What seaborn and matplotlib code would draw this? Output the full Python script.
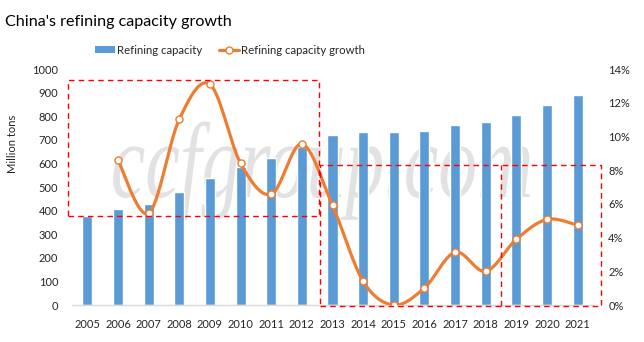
import numpy as np
import pandas as pd
import matplotlib
matplotlib.use("Agg")
import matplotlib.pyplot as plt
import seaborn as sns
from matplotlib.patches import Patch, Rectangle
from matplotlib.lines import Line2D
from matplotlib.ticker import FuncFormatter, MultipleLocator
from matplotlib.transforms import Affine2D
from matplotlib.patheffects import AbstractPathEffect

# ---- data ----
years = [str(y) for y in range(2005, 2022)]
capacity = [376, 407, 428, 479, 538, 585, 623, 668, 720, 733, 733, 737,
            763, 775, 805, 847, 890]                      # million tons
growth_years = years[1:]
growth = [8.60, 5.44, 11.02, 13.09, 8.41, 6.57, 9.55, 5.91, 1.41, 0.0,
          1.01, 3.13, 2.00, 3.90, 5.08, 4.73]             # percent

title = "China's refining capacity growth"
bar_label = "Refining capacity"
line_label = "Refining capacity growth"
y_label = "Million tons"
watermark = "ccfgroup.com"

BLUE = "#5B9BD5"
ORANGE = "#ED7D31"
FONT = "Lato"

sns.set_theme(style="white")
plt.rcParams["font.family"] = [FONT, "DejaVu Sans"]

W, H = 644, 342
fig = plt.figure(figsize=(W / 100, H / 100), dpi=100)
ax = fig.add_axes([72 / W, 37 / H, 521 / W, 236 / H])


class VerticalStretch(AbstractPathEffect):
    """Draw text glyphs stretched vertically about a fixed baseline (pixels)."""

    def __init__(self, base_y, factor):
        super().__init__()
        self.base_y = base_y
        self.factor = factor

    def draw_path(self, renderer, gc, tpath, affine, rgbFace=None):
        stretch = Affine2D().translate(0, -self.base_y).scale(1, self.factor) \
            .translate(0, self.base_y)
        renderer.draw_path(gc, tpath, affine + stretch, rgbFace)


def smooth_curve(xs, ys, n=30):
    """Bezier smoothing through every point (spreadsheet-style smoothed line)."""
    p = np.column_stack([xs, ys]).astype(float)
    out = []
    for i in range(len(p) - 1):
        p0 = p[i - 1] if i > 0 else p[i]
        p1, p2 = p[i], p[i + 1]
        p3 = p[i + 2] if i + 2 < len(p) else p[i + 1]
        c1 = p1 + (p2 - p0) / 6.0
        c2 = p2 - (p3 - p1) / 6.0
        t = np.linspace(0, 1, n)[:, None]
        seg = ((1 - t) ** 3) * p1 + 3 * ((1 - t) ** 2) * t * c1 \
            + 3 * (1 - t) * t ** 2 * c2 + t ** 3 * p2
        out.append(seg if i == 0 else seg[1:])
    out = np.vstack(out)
    return out[:, 0], out[:, 1]


# bars
df_bar = pd.DataFrame({"year": years, "capacity": capacity})
sns.barplot(data=df_bar, x="year", y="capacity", ax=ax, color=BLUE,
            saturation=1, width=0.33, zorder=2)

# watermark behind the bars
wm_base = H - 197
ax.text(322 / W, wm_base / H, watermark, transform=fig.transFigure,
        ha="center", va="baseline", fontsize=56, style="italic",
        family="Liberation Serif", color="#e2e2e2", zorder=0.5,
        path_effects=[VerticalStretch(wm_base, 1.38)])

ax.set_xlim(-0.5, len(years) - 0.5)
ax.set_ylim(0, 1000)
ax.yaxis.set_major_locator(MultipleLocator(100))
ax.set_xlabel("")
ax.set_ylabel("")
for s in ["top", "left", "right"]:
    ax.spines[s].set_visible(False)
ax.spines["bottom"].set_color("#d9d9d9")
ax.spines["bottom"].set_linewidth(1)
ax.tick_params(axis="both", length=0, labelsize=8, colors="#262626")
ax.tick_params(axis="y", pad=10)
ax.tick_params(axis="x", pad=10)

# growth line on secondary axis
ax2 = ax.twinx()
gx = np.array([years.index(y) for y in growth_years], dtype=float)
cx, cy = smooth_curve(gx, growth)
ax2.plot(cx, cy, color=ORANGE, lw=2.3, zorder=3, solid_capstyle="round")
df_line = pd.DataFrame({"x": gx, "growth": growth})
sns.scatterplot(data=df_line, x="x", y="growth", ax=ax2, s=26,
                facecolor="white", edgecolor=ORANGE, linewidth=1.0, zorder=4)
ax2.set_ylim(0, 14)
ax2.set_xlim(-0.5, len(years) - 0.5)
ax2.yaxis.set_major_locator(MultipleLocator(2))
ax2.yaxis.set_major_formatter(FuncFormatter(lambda v, _: f"{v:.0f}%"))
ax2.set_xlabel("")
ax2.set_ylabel("")
for s in ["top", "left", "right", "bottom"]:
    ax2.spines[s].set_visible(False)
ax2.tick_params(axis="y", length=0, labelsize=8, colors="#262626", pad=11)


# highlighted periods (dashed red frames), placed in pixel space
def pix_rect(x0, y0, x1, y1):
    r = Rectangle((x0 / W, (H - y1) / H), (x1 - x0) / W, (y1 - y0) / H,
                  transform=fig.transFigure, fill=False, edgecolor="#FF0000",
                  lw=1.0, linestyle=(0, (4, 3)), zorder=6, clip_on=False)
    ax2.add_patch(r)


pix_rect(68, 80, 319, 216)
pix_rect(320, 165, 601, 306)
ax2.add_line(Line2D([501 / W, 501 / W], [(H - 306) / H, (H - 165) / H],
                    transform=fig.transFigure, color="#FF0000", lw=1.0,
                    linestyle=(0, (4, 3)), zorder=6, clip_on=False))

# title, axis label, legend
fig.text(5 / W, (H - 22) / H, title, ha="left", va="center", fontsize=11.6,
         color="#000000")
fig.text(13 / W, (H - 144) / H, y_label, rotation=90, ha="center",
         va="center", fontsize=8, color="#262626")

handles = [Patch(facecolor=BLUE, edgecolor="none"),
           Line2D([], [], color=ORANGE, lw=2.3, marker="o", ms=5,
                  mfc="white", mec=ORANGE, mew=1.0)]
fig.legend(handles, [bar_label, line_label], loc="center",
           bbox_to_anchor=(230 / W, (H - 50) / H), ncol=2, frameon=False,
           fontsize=8.2, handlelength=1.8, handletextpad=0.2,
           columnspacing=1.4, handleheight=0.6)

fig.savefig("out.png", dpi=100)
